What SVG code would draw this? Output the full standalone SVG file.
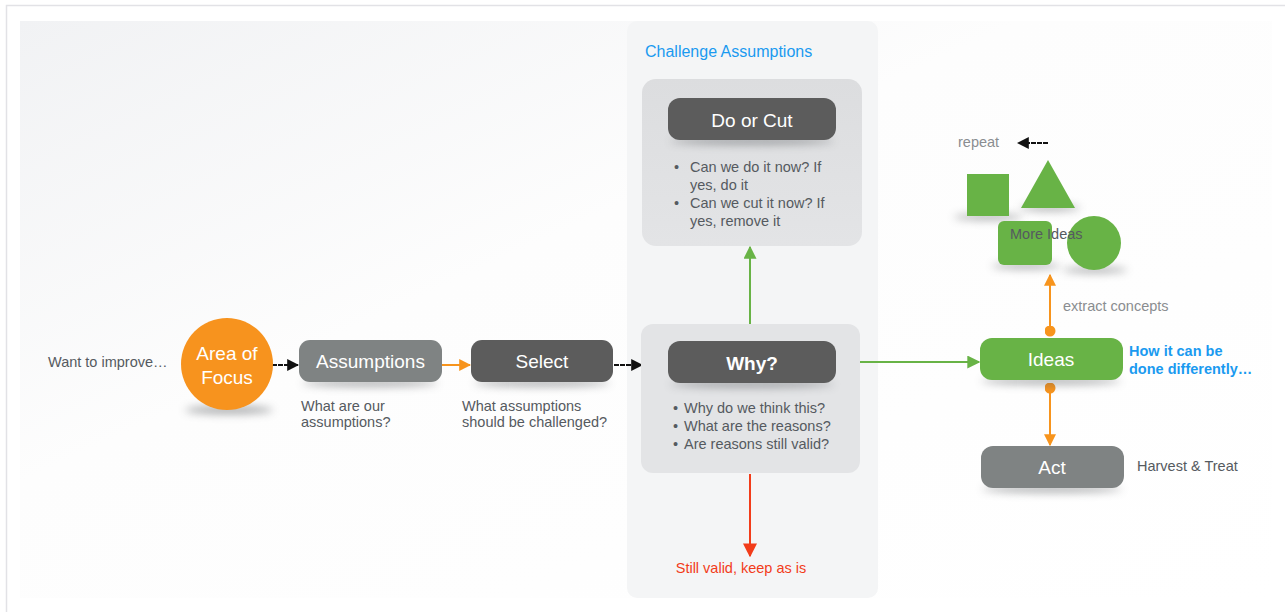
<svg xmlns="http://www.w3.org/2000/svg" width="1285" height="612" viewBox="0 0 1285 612">
  <defs>
    <linearGradient id="slideBg" x1="0" y1="0" x2="1" y2="1">
      <stop offset="0" stop-color="#f1f2f4"/>
      <stop offset="0.4" stop-color="#fdfdfd"/>
      <stop offset="1" stop-color="#ffffff"/>
    </linearGradient>
    <linearGradient id="cardBg" x1="0" y1="0" x2="0" y2="1">
      <stop offset="0" stop-color="#dcdddf"/>
      <stop offset="1" stop-color="#e3e4e6"/>
    </linearGradient>
    <filter id="soft" x="-50%" y="-200%" width="200%" height="500%">
      <feGaussianBlur stdDeviation="4"/>
    </filter>
    <marker id="headBlack" viewBox="0 0 10 10" refX="9" refY="5" markerWidth="12" markerHeight="12" markerUnits="userSpaceOnUse" orient="auto">
      <path d="M0,0 L10,5 L0,10 Z" fill="#111"/>
    </marker>
    <marker id="headOrange" viewBox="0 0 10 10" refX="9" refY="5" markerWidth="12" markerHeight="12" markerUnits="userSpaceOnUse" orient="auto">
      <path d="M0,0 L10,5 L0,10 Z" fill="#f7941d"/>
    </marker>
    <marker id="headGreen" viewBox="0 0 10 10" refX="9" refY="5" markerWidth="13" markerHeight="13" markerUnits="userSpaceOnUse" orient="auto">
      <path d="M0,0 L10,5 L0,10 Z" fill="#68b346"/>
    </marker>
    <marker id="headRed" viewBox="0 0 10 10" refX="9" refY="5" markerWidth="14" markerHeight="14" markerUnits="userSpaceOnUse" orient="auto">
      <path d="M0,0 L10,5 L0,10 Z" fill="#f23c1a"/>
    </marker>
    <marker id="dotOrange" viewBox="0 0 10 10" refX="5" refY="5" markerWidth="11" markerHeight="11" markerUnits="userSpaceOnUse">
      <circle cx="5" cy="5" r="5" fill="#f7941d"/>
    </marker>
  </defs>
  <style>
    text { font-family: "Liberation Sans", Arial, sans-serif; }
    .note { font-size: 14.5px; fill: #555a60; }
    .muted { font-size: 14.5px; fill: #8a8d90; }
    .label { font-size: 19px; fill: #ffffff; text-anchor: middle; }
    .blue { font-size: 16px; fill: #1a9af0; }
    .blueBold { font-size: 14.5px; fill: #1a9af0; font-weight: bold; }
    .red { font-size: 14.5px; fill: #f23c1a; text-anchor: middle; }
    .shadow { fill: #55585c; opacity: 0.5; filter: url(#soft); }
    .wire { fill: none; stroke-width: 2; }
    .shape { fill: #68b346; }
  </style>

  <!-- page frame -->
  <rect x="0" y="0" width="1285" height="612" fill="#ffffff"/>
  <path d="M6.5,612 V5.5 H1285" fill="none" stroke="#e2e2e6" stroke-width="1.5"/>
  <rect x="20" y="21" width="1252" height="577" fill="url(#slideBg)"/>

  <!-- challenge column -->
  <g id="challenge-panel">
    <rect x="627" y="21" width="251" height="577" rx="10" fill="#f4f5f6"/>
    <text class="blue" x="645" y="57">Challenge Assumptions</text>
  </g>

  <!-- connectors -->
  <g id="connectors">
    <line class="wire" x1="272" y1="365" x2="298" y2="365" stroke="#111" stroke-dasharray="5 1" marker-end="url(#headBlack)"/>
    <line class="wire" x1="442" y1="365" x2="470" y2="365" stroke="#f7941d" marker-end="url(#headOrange)"/>
    <line class="wire" x1="614" y1="365" x2="642" y2="365" stroke="#111" stroke-dasharray="5 1" marker-end="url(#headBlack)"/>
    <line class="wire" x1="750" y1="325" x2="750" y2="247" stroke="#68b346" marker-end="url(#headGreen)"/>
    <line class="wire" x1="838" y1="362" x2="979" y2="362" stroke="#68b346" marker-end="url(#headGreen)"/>
    <line class="wire" x1="750" y1="474" x2="750" y2="556" stroke="#f23c1a" marker-end="url(#headRed)"/>
    <line class="wire" x1="1050" y1="331" x2="1050" y2="275" stroke="#f7941d" marker-start="url(#dotOrange)" marker-end="url(#headOrange)"/>
    <line class="wire" x1="1050" y1="388" x2="1050" y2="445" stroke="#f7941d" marker-start="url(#dotOrange)" marker-end="url(#headOrange)"/>
    <line class="wire" x1="1048" y1="143" x2="1018" y2="143" stroke="#111" stroke-dasharray="5 1" marker-end="url(#headBlack)"/>
  </g>

  <!-- start -->
  <g id="want-to-improve">
    <text class="note" x="48" y="367">Want to improve…</text>
  </g>

  <g id="area-of-focus">
    <ellipse class="shadow" cx="229" cy="410" rx="44" ry="4"/>
    <circle cx="227" cy="364" r="46" fill="#f7931e"/>
    <text class="label" x="227" y="360">Area of</text>
    <text class="label" x="227" y="384">Focus</text>
  </g>

  <g id="assumptions">
    <ellipse class="shadow" cx="370" cy="383" rx="68" ry="3.5"/>
    <rect x="299" y="340" width="143" height="42" rx="11" fill="#7f8383"/>
    <text class="label" x="370.5" y="368">Assumptions</text>
    <text class="note" x="301" y="411">What are our</text>
    <text class="note" x="301" y="427">assumptions?</text>
  </g>

  <g id="select">
    <ellipse class="shadow" cx="542" cy="383" rx="68" ry="3.5"/>
    <rect x="471" y="340" width="142" height="42" rx="11" fill="#5c5c5c"/>
    <text class="label" x="542" y="368">Select</text>
    <text class="note" x="462" y="411">What assumptions</text>
    <text class="note" x="462" y="427">should be challenged?</text>
  </g>

  <g id="do-or-cut">
    <rect x="642" y="79" width="220" height="167" rx="14" fill="url(#cardBg)"/>
    <ellipse class="shadow" cx="752" cy="141" rx="82" ry="3.5"/>
    <rect x="668" y="98" width="168" height="42" rx="12" fill="#5c5c5c"/>
    <text class="label" x="752" y="127">Do or Cut</text>
    <text class="note" x="674" y="172">•</text>
    <text class="note" x="690" y="172">Can we do it now? If</text>
    <text class="note" x="690" y="190">yes, do it</text>
    <text class="note" x="674" y="208">•</text>
    <text class="note" x="690" y="208">Can we cut it now? If</text>
    <text class="note" x="690" y="226">yes, remove it</text>
  </g>

  <g id="why">
    <rect x="641" y="324" width="219" height="149" rx="12" fill="#e3e4e6"/>
    <ellipse class="shadow" cx="752" cy="384" rx="82" ry="3.5"/>
    <rect x="668" y="341" width="168" height="42" rx="12" fill="#5c5c5c"/>
    <text class="label" x="752" y="370" font-weight="bold">Why?</text>
    <text class="note" x="673" y="413">•</text>
    <text class="note" x="684" y="413">Why do we think this?</text>
    <text class="note" x="673" y="431">•</text>
    <text class="note" x="684" y="431">What are the reasons?</text>
    <text class="note" x="673" y="449">•</text>
    <text class="note" x="684" y="449">Are reasons still valid?</text>
  </g>

  <g id="still-valid">
    <text class="red" x="741" y="573">Still valid, keep as is</text>
  </g>

  <g id="ideas">
    <ellipse class="shadow" cx="1051" cy="381" rx="70" ry="3.5"/>
    <rect x="980" y="338" width="143" height="42" rx="12" fill="#68b346"/>
    <text class="label" x="1051" y="366">Ideas</text>
    <text class="blueBold" x="1129" y="356">How it can be</text>
    <text class="blueBold" x="1129" y="374">done differently…</text>
  </g>

  <g id="extract-concepts">
    <text class="muted" x="1063" y="311">extract concepts</text>
  </g>

  <g id="act">
    <ellipse class="shadow" cx="1052" cy="489" rx="70" ry="3.5"/>
    <rect x="981" y="446" width="143" height="42" rx="12" fill="#7f8383"/>
    <text class="label" x="1052" y="474">Act</text>
    <text class="note" x="1137" y="471">Harvest &amp; Treat</text>
  </g>

  <g id="more-ideas">
    <ellipse class="shadow" cx="988" cy="217" rx="34" ry="3"/>
    <ellipse class="shadow" cx="1050" cy="208" rx="30" ry="3"/>
    <ellipse class="shadow" cx="1026" cy="266" rx="34" ry="3"/>
    <ellipse class="shadow" cx="1095" cy="270" rx="32" ry="3"/>
    <rect class="shape" x="967" y="174" width="42" height="42"/>
    <polygon class="shape" points="1048,160 1075,208 1021,208"/>
    <rect class="shape" x="998" y="221" width="54" height="44" rx="6"/>
    <circle class="shape" cx="1094" cy="243" r="27"/>
    <text class="note" x="1010" y="239">More Ideas</text>
  </g>

  <g id="repeat">
    <text class="muted" x="958" y="147">repeat</text>
  </g>
</svg>
